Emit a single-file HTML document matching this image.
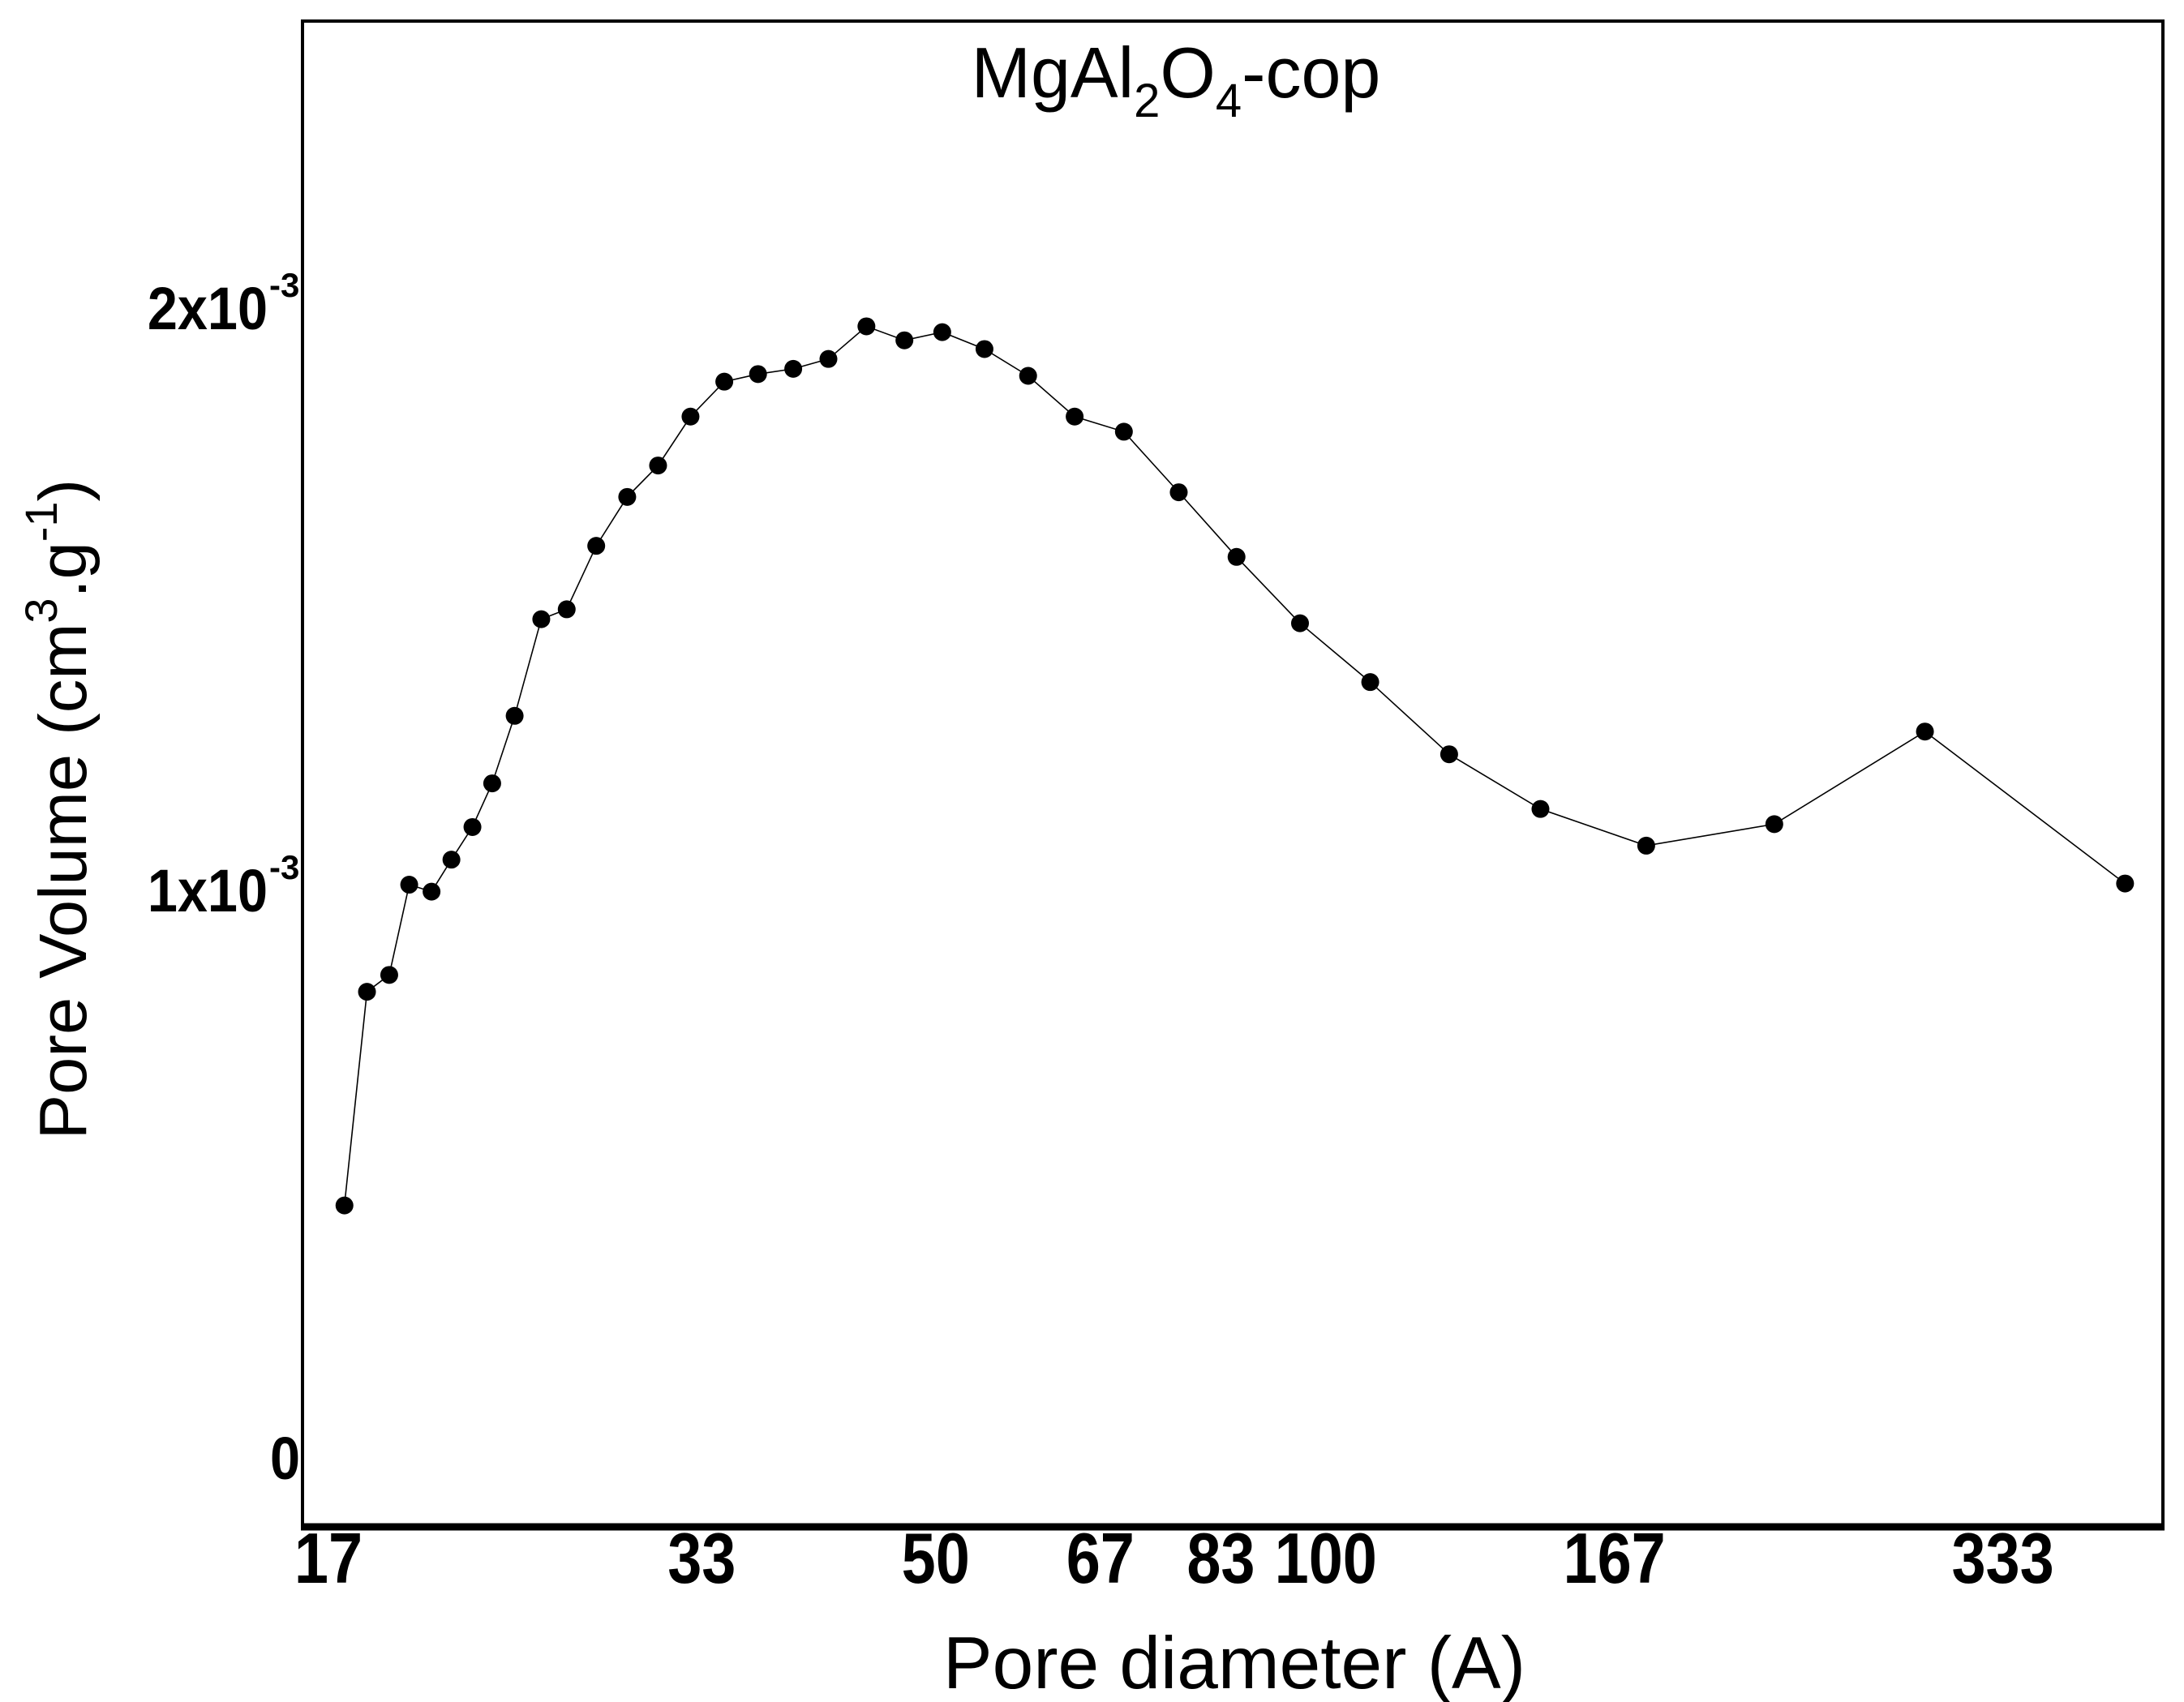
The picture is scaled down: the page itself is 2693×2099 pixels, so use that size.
<!DOCTYPE html>
<html><head><meta charset="utf-8"><style>
html,body{margin:0;padding:0;background:#fff;}
svg{display:block;}
text{font-family:"Liberation Sans",sans-serif;fill:#000;}
</style></head><body>
<svg id="chart" width="2693" height="2099" viewBox="0 0 2693 2099" xmlns="http://www.w3.org/2000/svg">
<rect x="373" y="26" width="2294" height="1857" fill="none" stroke="#000" stroke-width="4"/>
<line x1="371" y1="1883" x2="2669" y2="1883" stroke="#000" stroke-width="9"/>
<text x="1450" y="120" font-size="88" text-anchor="middle">MgAl<tspan font-size="58" dy="24">2</tspan><tspan dy="-24">O</tspan><tspan font-size="58" dy="24">4</tspan><tspan dy="-24">-cop</tspan></text>
<text transform="translate(106,998) rotate(-90)" font-size="83" text-anchor="middle">Pore Volume (cm<tspan font-size="56" dy="-36">3</tspan><tspan dy="36">.g</tspan><tspan font-size="56" dy="-36">-1</tspan><tspan dy="36">)</tspan></text>
<text x="1522" y="2082" font-size="91" text-anchor="middle">Pore diameter (A)</text>
<g id="axes"></g>
<g id="series"></g>
</svg>
<script>
const xTicks = [17, 33, 50, 67, 83, 100, 167, 333];
const yTicks = [0, 1, 2];
const yTickLabels = ["0", "1x10", "2x10"];
const diameters = [17.39,18.10,18.83,19.51,20.30,21.03,21.83,22.61,23.53,24.67,25.81,27.20,28.74,30.36,32.16,34.15,36.26,38.60,41.09,43.96,47.03,50.30,54.22,58.59,63.64,69.46,76.57,84.85,94.98,107.6,123.8,145.6,175.7,220.6,288.3,411.4];
const volumes = [0.442,0.809,0.838,0.993,0.981,1.036,1.092,1.167,1.283,1.449,1.466,1.575,1.659,1.713,1.797,1.857,1.870,1.879,1.896,1.952,1.928,1.942,1.913,1.867,1.797,1.771,1.667,1.556,1.442,1.341,1.217,1.123,1.060,1.097,1.256,0.995];

const NS = "http://www.w3.org/2000/svg";
function xs(d){ return 409 + 694*Math.log(d/17); }
function ys(v){ return 1804 - 718*v; }
const axes = document.getElementById('axes');
const series = document.getElementById('series');

xTicks.forEach(t=>{
  const tx = document.createElementNS(NS,'text');
  
  
  const cx = xs(t) - 4;
  tx.setAttribute('x', cx);
  tx.setAttribute('y', 1952);
  tx.setAttribute('font-size', 88);
  tx.setAttribute('font-weight', 'bold');
  tx.setAttribute('text-anchor', 'middle');
  tx.setAttribute('transform', `translate(${cx},0) scale(0.86,1) translate(${-cx},0)`);
  tx.textContent = String(t);
  axes.appendChild(tx);
});
yTicks.forEach((t,i)=>{
  const tx = document.createElementNS(NS,'text');
  
  
  const right = t === 0 ? 370 : 330;
  tx.setAttribute('x', right);
  tx.setAttribute('y', ys(t) + 28 + (t === 0 ? -8 : 10));
  tx.setAttribute('font-size', 74);
  tx.setAttribute('font-weight', 'bold');
  tx.setAttribute('text-anchor', 'end');
  tx.setAttribute('transform', `translate(${right},0) scale(0.9,1) translate(${-right},0)`);
  tx.textContent = yTickLabels[i];
  axes.appendChild(tx);
  if (t !== 0) {
    const sup = document.createElementNS(NS,'text');
    
    
    sup.setAttribute('x', right + 2);
    sup.setAttribute('y', ys(t) - 2);
    sup.setAttribute('font-size', 42);
    sup.setAttribute('font-weight', 'bold');
    sup.textContent = '-3';
    axes.appendChild(sup);
  }
});

const pts = diameters.map((d,i)=>`${xs(d).toFixed(1)},${ys(volumes[i]).toFixed(1)}`).join(' ');
const line = document.createElementNS(NS,'polyline');


line.setAttribute('points', pts);
line.setAttribute('fill','none');
line.setAttribute('stroke','#000');
line.setAttribute('stroke-width','1.6');
series.appendChild(line);
diameters.forEach((d,i)=>{
  const c = document.createElementNS(NS,'circle');
  
  
  c.setAttribute('cx', xs(d));
  c.setAttribute('cy', ys(volumes[i]));
  c.setAttribute('r', 11);
  c.setAttribute('fill', '#000');
  series.appendChild(c);
});
</script>
</body></html>
